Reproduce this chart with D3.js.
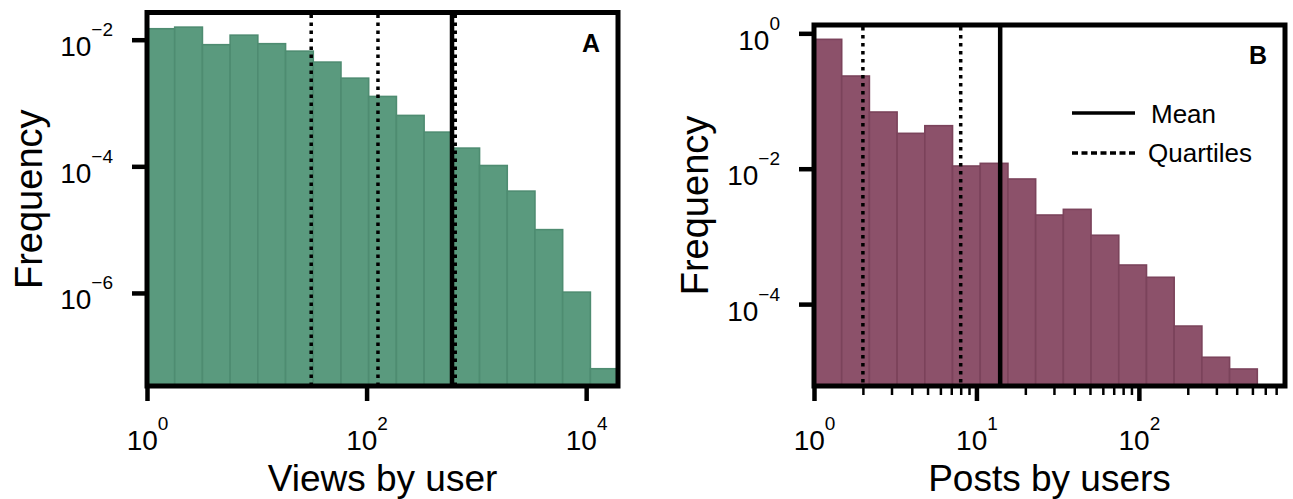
<!DOCTYPE html>
<html>
<head>
<meta charset="utf-8">
<script src="https://cdn.jsdelivr.net/npm/d3@7"></script>
<style>
  html, body { margin: 0; padding: 0; background: #fff; }
  svg { display: block; }
  svg text { font-family: "Liberation Sans", Arial, Helvetica, sans-serif; }
</style>
</head>
<body>
<svg id="chart" width="1293" height="499"></svg>
<script>
// ---- Data ----
// Panel A: Views by user
const binEdgesA = [1, 1.788, 3.197, 5.717, 10.22, 18.28, 32.69, 58.45, 104.5, 186.9, 334.2, 597.6, 1069, 1911, 3417, 6109, 10925, 19498];
const freqA = [0.0149, 0.0158, 0.00834, 0.0118, 0.00865, 0.0066, 0.00443, 0.00247, 0.00127, 0.000637, 0.000347, 0.000194, 0.000103, 4.06e-5, 1.0e-5, 1.03e-6, 6.35e-8];
const meanA = 600;
const quartilesA = [31.3, 127, 642];
const xTicksA = [1, 100, 10000];
const yTicksA = [1e-2, 1e-4, 1e-6];
const yDomainA = [3.39e-8, 0.0269];

// Panel B: Posts by users
const binEdgesB = [1, 1.481, 2.193, 3.248, 4.811, 7.125, 10.55, 15.63, 23.15, 34.28, 50.77, 75.2, 111.4, 164.9, 244.3, 361.8, 535.8, 793.5];
const freqB = [0.815, 0.234, 0.0688, 0.0333, 0.0432, 0.01096, 0.0120, 0.00705, 0.00207, 0.00251, 0.00104, 0.000378, 0.000249, 4.74e-5, 1.64e-5, 1.10e-5];
const meanB = 14;
const quartilesB = [1, 2, 8];
const xTicksB = [1, 10, 100];
const xMinorTicksB = [2,3,4,5,6,7,8,9,20,30,40,50,60,70,80,90,200,300,400,500,600,700];
const yTicksB = [1, 1e-2, 1e-4];
const yDomainB = [6.17e-6, 1.327];

const FONT = '"Liberation Sans", Arial, Helvetica, sans-serif';
const svg = d3.select("#chart");

function exponent(v) {
  const e = Math.round(Math.log10(v));
  return (e < 0 ? "\u2212" + (-e) : String(e));
}

function label10(sel) {
  sel.each(function(d) {
    const t = d3.select(this);
    t.append("tspan").style("font-size", "28px").text("10");
    t.append("tspan").style("font-size", "19px").attr("dy", -20).text(exponent(d));
  });
}

function panel(opt) {
  const x = d3.scaleLog().domain([opt.edges[0], opt.edges[opt.edges.length - 1]]).range([opt.x0, opt.x1]);
  const y = d3.scaleLog().domain(opt.yDomain).range([opt.y1, opt.y0]);
  const g = svg.append("g");

  // bars
  g.selectAll("rect.bar").data(opt.freq).join("rect")
    .attr("class", "bar")
    .attr("x", (d, i) => x(opt.edges[i]))
    .attr("width", (d, i) => x(opt.edges[i + 1]) - x(opt.edges[i]))
    .attr("y", d => y(d))
    .attr("height", d => opt.y1 - y(d))
    .attr("fill", opt.fill)
    .attr("stroke", opt.edge)
    .attr("stroke-width", 1.6);

  // quartile lines
  g.selectAll("line.q").data(opt.quartiles).join("line")
    .attr("class", "q")
    .attr("x1", d => x(d)).attr("x2", d => x(d))
    .attr("y1", opt.y0 + 2).attr("y2", opt.y1)
    .attr("stroke", "#000").attr("stroke-width", 3.5)
    .attr("stroke-dasharray", "3.5,4.5");

  // mean line
  g.append("line")
    .attr("x1", x(opt.mean)).attr("x2", x(opt.mean))
    .attr("y1", opt.y0).attr("y2", opt.y1)
    .attr("stroke", "#000").attr("stroke-width", 4.5);

  // frame
  g.append("rect")
    .attr("x", opt.x0).attr("y", opt.y0)
    .attr("width", opt.x1 - opt.x0).attr("height", opt.y1 - opt.y0)
    .attr("fill", "none").attr("stroke", "#000").attr("stroke-width", 5);

  // y axis
  const ya = g.append("g").attr("transform", `translate(${opt.x0 - 2},0)`)
    .call(d3.axisLeft(y).tickValues(opt.yTicks).tickSize(13).tickFormat(() => ""));
  ya.attr("font-family", FONT).attr("font-size", null);
  ya.select(".domain").remove();
  ya.selectAll(".tick line").attr("stroke-width", 4.5).attr("stroke", "#000");
  ya.selectAll(".tick text").remove();
  ya.selectAll(".tick").append("text")
    .attr("x", -32).attr("y", 16)
    .attr("text-anchor", "end").attr("fill", "#000")
    .call(label10);

  // x axis
  const xa = g.append("g").attr("transform", `translate(0,${opt.y1 + 2})`)
    .call(d3.axisBottom(x).tickValues(opt.xTicks).tickSize(13).tickFormat(() => ""));
  xa.attr("font-family", FONT).attr("font-size", null);
  xa.select(".domain").remove();
  xa.selectAll(".tick line").attr("stroke-width", 4.5).attr("stroke", "#000");
  xa.selectAll(".tick text").remove();
  xa.selectAll(".tick").append("text")
    .attr("x", 0).attr("y", 62)
    .attr("text-anchor", "middle").attr("fill", "#000")
    .call(label10);

  if (opt.minor) {
    const xm = g.append("g").attr("transform", `translate(0,${opt.y1 + 2})`)
      .call(d3.axisBottom(x).tickValues(opt.minor).tickSize(7).tickFormat(() => ""));
    xm.select(".domain").remove();
    xm.selectAll(".tick text").remove();
    xm.selectAll(".tick line").attr("stroke-width", 2.5).attr("stroke", "#000");
  }

  // axis titles
  g.append("text")
    .attr("x", (opt.x0 + opt.x1) / 2).attr("y", 491)
    .attr("text-anchor", "middle").style("font-size", "37px").attr("fill", "#000")
    .text(opt.xLabel);
  g.append("text")
    .attr("transform", `translate(${opt.yLabelX},${(opt.y0 + opt.y1) / 2}) rotate(-90)`)
    .attr("text-anchor", "middle").style("font-size", "38px").attr("fill", "#000")
    .text("Frequency");

  // panel letter
  g.append("text")
    .attr("x", opt.x1 - 18).attr("y", opt.y0 + 39)
    .attr("text-anchor", "end").style("font-size", "25px").attr("font-weight", "bold")
    .attr("fill", "#000")
    .text(opt.letter);

  return {x, y, g};
}

panel({
  edges: binEdgesA, freq: freqA, mean: meanA, quartiles: quartilesA,
  xTicks: xTicksA, yTicks: yTicksA, yDomain: yDomainA,
  x0: 147, x1: 618, y0: 12.5, y1: 386,
  fill: "#5a9a7e", edge: "#4e8c71",
  xLabel: "Views by user", yLabelX: 42, letter: "A"
});

panel({
  edges: binEdgesB, freq: freqB, mean: meanB, quartiles: quartilesB,
  xTicks: xTicksB, yTicks: yTicksB, yDomain: yDomainB, minor: xMinorTicksB,
  x0: 814, x1: 1285, y0: 25, y1: 386,
  fill: "#8c516a", edge: "#7b435b",
  xLabel: "Posts by users", yLabelX: 708, letter: "B"
});

// legend (panel B)
const leg = svg.append("g");
leg.append("line").attr("x1", 1072).attr("x2", 1135).attr("y1", 113).attr("y2", 113)
  .attr("stroke", "#000").attr("stroke-width", 3.5);
leg.append("text").attr("x", 1151).attr("y", 123).style("font-size", "26px").attr("fill", "#000").text("Mean");
leg.append("line").attr("x1", 1072).attr("x2", 1135).attr("y1", 153).attr("y2", 153)
  .attr("stroke", "#000").attr("stroke-width", 3.5).attr("stroke-dasharray", "6,3.5");
leg.append("text").attr("x", 1148).attr("y", 162).style("font-size", "26px").attr("fill", "#000").text("Quartiles");
</script>
</body>
</html>
